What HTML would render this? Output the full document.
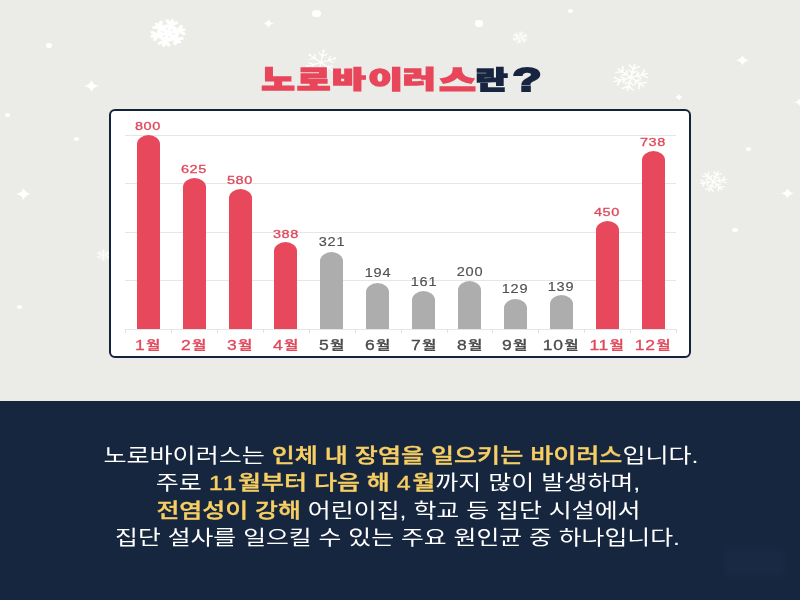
<!DOCTYPE html>
<html lang="ko"><head><meta charset="utf-8"><title>노로바이러스란?</title>
<style>
html,body{margin:0;padding:0}
body{width:800px;height:600px;position:relative;overflow:hidden;background:#ebebe7;font-family:"Liberation Sans","Noto Sans CJK KR",sans-serif}
.fl,.dot{position:absolute}
.dot{background:#fff;border-radius:50%}
.title{position:absolute;left:0;top:0;width:0;height:0;font-family:"Liberation Sans","Noto Sans CJK KR",sans-serif;font-weight:900;font-size:30px;line-height:1;white-space:nowrap}
.title span{position:absolute;left:0;top:0;transform-origin:0 0;-webkit-text-stroke:1.8px currentColor}
.title .r{color:#e8465a}
.title .n{color:#172541}
.chart{position:absolute;left:109px;top:109px;width:578px;height:245px;border:2px solid #15223c;border-radius:6px;background:#fff}
.bar{position:absolute;width:23px;border-radius:11.5px 11.5px 0 0 / 9px 9px 0 0}
.bar.r{background:#e8485b}
.bar.g{background:#adadad}
.val,.mon{position:absolute;width:60px;text-align:center;font-family:"Liberation Sans","Noto Sans CJK KR",sans-serif;white-space:nowrap;transform:scaleX(1.25)}
.val{font-size:11.6px;line-height:16px;letter-spacing:0.55px}
.val.r{color:#e0485a;-webkit-text-stroke:0.3px #e0485a}
.val.g{color:#505050;font-weight:400;font-size:13px;letter-spacing:0.6px;transform:scaleX(1.12);-webkit-text-stroke:0.15px #505050}
.mon{top:334.5px;font-size:14px;line-height:20px;font-weight:500;letter-spacing:0.5px}
.mon span{font-size:12.5px;margin-left:0.5px}
.mon.r{color:#e0485a;-webkit-text-stroke:0.3px #e0485a}
.mon.g{color:#4a4a4a;-webkit-text-stroke:0.3px #4a4a4a}
.grid{position:absolute;left:125px;width:551px;height:1px;background:#e6e6e6}
.tick{position:absolute;top:329px;width:1px;height:4px;background:#e2e2e2}
.bottom{position:absolute;left:0;top:400.5px;width:800px;height:200px;background:#17263f}
.wm{position:absolute;left:725px;top:549px;width:60px;height:28px;background:#1c2e4a;filter:blur(3px);opacity:.45}
.txt{position:absolute;left:0;width:800px;text-align:center;color:#fff;font-family:"Liberation Sans","Noto Sans CJK KR",sans-serif;font-size:20px;line-height:28px;font-weight:400;white-space:nowrap;transform-origin:50% 50%}
.txt .d{letter-spacing:1.3px}
.txt b{color:#f7cf63;font-weight:500;-webkit-text-stroke:0.35px #f7cf63}
</style></head><body>
<svg class="fl" style="left:150.3px;top:18.5px;opacity:1" width="36" height="28" viewBox="-11 -11 22 22" preserveAspectRatio="none"><g fill="none" stroke="#fff" stroke-width="2.2" stroke-linecap="round"><g transform="rotate(15)"><path d="M0 0V-10M0 -6.5l-3 -2.6M0 -6.5l3 -2.6M0 -3.4l-2.2 -1.9M0 -3.4l2.2 -1.9"/></g><g transform="rotate(75)"><path d="M0 0V-10M0 -6.5l-3 -2.6M0 -6.5l3 -2.6M0 -3.4l-2.2 -1.9M0 -3.4l2.2 -1.9"/></g><g transform="rotate(135)"><path d="M0 0V-10M0 -6.5l-3 -2.6M0 -6.5l3 -2.6M0 -3.4l-2.2 -1.9M0 -3.4l2.2 -1.9"/></g><g transform="rotate(195)"><path d="M0 0V-10M0 -6.5l-3 -2.6M0 -6.5l3 -2.6M0 -3.4l-2.2 -1.9M0 -3.4l2.2 -1.9"/></g><g transform="rotate(255)"><path d="M0 0V-10M0 -6.5l-3 -2.6M0 -6.5l3 -2.6M0 -3.4l-2.2 -1.9M0 -3.4l2.2 -1.9"/></g><g transform="rotate(315)"><path d="M0 0V-10M0 -6.5l-3 -2.6M0 -6.5l3 -2.6M0 -3.4l-2.2 -1.9M0 -3.4l2.2 -1.9"/></g></g></svg>
<svg class="fl" style="left:304.0px;top:48.5px;opacity:1" width="34" height="27" viewBox="-11 -11 22 22" preserveAspectRatio="none"><g fill="none" stroke="#fff" stroke-width="0.9" stroke-linecap="round"><g transform="rotate(10)"><path d="M0 0V-9M0 -5l-2.5 -2.5M0 -5l2.5 -2.5"/><circle cx="0" cy="-9.6" r="0.9" fill="#fff" stroke="none"/></g><g transform="rotate(70)"><path d="M0 0V-9M0 -5l-2.5 -2.5M0 -5l2.5 -2.5"/><circle cx="0" cy="-9.6" r="0.9" fill="#fff" stroke="none"/></g><g transform="rotate(130)"><path d="M0 0V-9M0 -5l-2.5 -2.5M0 -5l2.5 -2.5"/><circle cx="0" cy="-9.6" r="0.9" fill="#fff" stroke="none"/></g><g transform="rotate(190)"><path d="M0 0V-9M0 -5l-2.5 -2.5M0 -5l2.5 -2.5"/><circle cx="0" cy="-9.6" r="0.9" fill="#fff" stroke="none"/></g><g transform="rotate(250)"><path d="M0 0V-9M0 -5l-2.5 -2.5M0 -5l2.5 -2.5"/><circle cx="0" cy="-9.6" r="0.9" fill="#fff" stroke="none"/></g><g transform="rotate(310)"><path d="M0 0V-9M0 -5l-2.5 -2.5M0 -5l2.5 -2.5"/><circle cx="0" cy="-9.6" r="0.9" fill="#fff" stroke="none"/></g></g></svg>
<svg class="fl" style="left:611.6px;top:62.5px;opacity:0.9" width="38" height="29" viewBox="-11 -11 22 22" preserveAspectRatio="none"><g fill="none" stroke="#fff" stroke-width="1.1" stroke-linecap="round"><g transform="rotate(12)"><path d="M0 0V-10M0 -6.5l-3 -2.6M0 -6.5l3 -2.6M0 -3.4l-2.2 -1.9M0 -3.4l2.2 -1.9"/></g><g transform="rotate(72)"><path d="M0 0V-10M0 -6.5l-3 -2.6M0 -6.5l3 -2.6M0 -3.4l-2.2 -1.9M0 -3.4l2.2 -1.9"/></g><g transform="rotate(132)"><path d="M0 0V-10M0 -6.5l-3 -2.6M0 -6.5l3 -2.6M0 -3.4l-2.2 -1.9M0 -3.4l2.2 -1.9"/></g><g transform="rotate(192)"><path d="M0 0V-10M0 -6.5l-3 -2.6M0 -6.5l3 -2.6M0 -3.4l-2.2 -1.9M0 -3.4l2.2 -1.9"/></g><g transform="rotate(252)"><path d="M0 0V-10M0 -6.5l-3 -2.6M0 -6.5l3 -2.6M0 -3.4l-2.2 -1.9M0 -3.4l2.2 -1.9"/></g><g transform="rotate(312)"><path d="M0 0V-10M0 -6.5l-3 -2.6M0 -6.5l3 -2.6M0 -3.4l-2.2 -1.9M0 -3.4l2.2 -1.9"/></g></g></svg>
<svg class="fl" style="left:699.0px;top:169.5px;opacity:0.9" width="29" height="23" viewBox="-11 -11 22 22" preserveAspectRatio="none"><g fill="none" stroke="#fff" stroke-width="1.2" stroke-linecap="round"><g transform="rotate(20)"><path d="M0 0V-10M0 -6.5l-3 -2.6M0 -6.5l3 -2.6M0 -3.4l-2.2 -1.9M0 -3.4l2.2 -1.9"/></g><g transform="rotate(80)"><path d="M0 0V-10M0 -6.5l-3 -2.6M0 -6.5l3 -2.6M0 -3.4l-2.2 -1.9M0 -3.4l2.2 -1.9"/></g><g transform="rotate(140)"><path d="M0 0V-10M0 -6.5l-3 -2.6M0 -6.5l3 -2.6M0 -3.4l-2.2 -1.9M0 -3.4l2.2 -1.9"/></g><g transform="rotate(200)"><path d="M0 0V-10M0 -6.5l-3 -2.6M0 -6.5l3 -2.6M0 -3.4l-2.2 -1.9M0 -3.4l2.2 -1.9"/></g><g transform="rotate(260)"><path d="M0 0V-10M0 -6.5l-3 -2.6M0 -6.5l3 -2.6M0 -3.4l-2.2 -1.9M0 -3.4l2.2 -1.9"/></g><g transform="rotate(320)"><path d="M0 0V-10M0 -6.5l-3 -2.6M0 -6.5l3 -2.6M0 -3.4l-2.2 -1.9M0 -3.4l2.2 -1.9"/></g></g></svg>
<svg class="fl" style="left:512.0px;top:30.5px;opacity:0.9" width="16" height="13" viewBox="-11 -11 22 22" preserveAspectRatio="none"><g fill="none" stroke="#fff" stroke-width="1.3" stroke-linecap="round"><g transform="rotate(10)"><path d="M0 0V-10M0 -6.5l-3 -2.6M0 -6.5l3 -2.6M0 -3.4l-2.2 -1.9M0 -3.4l2.2 -1.9"/></g><g transform="rotate(70)"><path d="M0 0V-10M0 -6.5l-3 -2.6M0 -6.5l3 -2.6M0 -3.4l-2.2 -1.9M0 -3.4l2.2 -1.9"/></g><g transform="rotate(130)"><path d="M0 0V-10M0 -6.5l-3 -2.6M0 -6.5l3 -2.6M0 -3.4l-2.2 -1.9M0 -3.4l2.2 -1.9"/></g><g transform="rotate(190)"><path d="M0 0V-10M0 -6.5l-3 -2.6M0 -6.5l3 -2.6M0 -3.4l-2.2 -1.9M0 -3.4l2.2 -1.9"/></g><g transform="rotate(250)"><path d="M0 0V-10M0 -6.5l-3 -2.6M0 -6.5l3 -2.6M0 -3.4l-2.2 -1.9M0 -3.4l2.2 -1.9"/></g><g transform="rotate(310)"><path d="M0 0V-10M0 -6.5l-3 -2.6M0 -6.5l3 -2.6M0 -3.4l-2.2 -1.9M0 -3.4l2.2 -1.9"/></g></g></svg>
<svg class="fl" style="left:95.5px;top:249.0px;opacity:0.9" width="15" height="12" viewBox="-11 -11 22 22" preserveAspectRatio="none"><g fill="none" stroke="#fff" stroke-width="1.4" stroke-linecap="round"><g transform="rotate(0)"><path d="M0 0V-10M0 -6.5l-3 -2.6M0 -6.5l3 -2.6M0 -3.4l-2.2 -1.9M0 -3.4l2.2 -1.9"/></g><g transform="rotate(60)"><path d="M0 0V-10M0 -6.5l-3 -2.6M0 -6.5l3 -2.6M0 -3.4l-2.2 -1.9M0 -3.4l2.2 -1.9"/></g><g transform="rotate(120)"><path d="M0 0V-10M0 -6.5l-3 -2.6M0 -6.5l3 -2.6M0 -3.4l-2.2 -1.9M0 -3.4l2.2 -1.9"/></g><g transform="rotate(180)"><path d="M0 0V-10M0 -6.5l-3 -2.6M0 -6.5l3 -2.6M0 -3.4l-2.2 -1.9M0 -3.4l2.2 -1.9"/></g><g transform="rotate(240)"><path d="M0 0V-10M0 -6.5l-3 -2.6M0 -6.5l3 -2.6M0 -3.4l-2.2 -1.9M0 -3.4l2.2 -1.9"/></g><g transform="rotate(300)"><path d="M0 0V-10M0 -6.5l-3 -2.6M0 -6.5l3 -2.6M0 -3.4l-2.2 -1.9M0 -3.4l2.2 -1.9"/></g></g></svg>
<svg class="fl" style="left:83.5px;top:80.0px;opacity:1" width="15" height="12.0" viewBox="-10 -10 20 20" preserveAspectRatio="none"><path fill="#fff" d="M0 -10Q1.8 -1.8 10 0Q1.8 1.8 0 10Q-1.8 1.8 -10 0Q-1.8 -1.8 0 -10Z"/></svg>
<svg class="fl" style="left:16.0px;top:187.5px;opacity:1" width="15" height="12.0" viewBox="-10 -10 20 20" preserveAspectRatio="none"><path fill="#fff" d="M0 -10Q1.8 -1.8 10 0Q1.8 1.8 0 10Q-1.8 1.8 -10 0Q-1.8 -1.8 0 -10Z"/></svg>
<svg class="fl" style="left:262.9px;top:18.5px;opacity:1" width="11" height="9.0" viewBox="-10 -10 20 20" preserveAspectRatio="none"><path fill="#fff" d="M0 -10Q1.8 -1.8 10 0Q1.8 1.8 0 10Q-1.8 1.8 -10 0Q-1.8 -1.8 0 -10Z"/></svg>
<svg class="fl" style="left:735.5px;top:54.8px;opacity:1" width="13" height="10.5" viewBox="-10 -10 20 20" preserveAspectRatio="none"><path fill="#fff" d="M0 -10Q1.8 -1.8 10 0Q1.8 1.8 0 10Q-1.8 1.8 -10 0Q-1.8 -1.8 0 -10Z"/></svg>
<svg class="fl" style="left:781.0px;top:187.8px;opacity:1" width="13" height="10.5" viewBox="-10 -10 20 20" preserveAspectRatio="none"><path fill="#fff" d="M0 -10Q1.8 -1.8 10 0Q1.8 1.8 0 10Q-1.8 1.8 -10 0Q-1.8 -1.8 0 -10Z"/></svg>
<svg class="fl" style="left:793.5px;top:96.8px;opacity:1" width="13" height="10.5" viewBox="-10 -10 20 20" preserveAspectRatio="none"><path fill="#fff" d="M0 -10Q1.8 -1.8 10 0Q1.8 1.8 0 10Q-1.8 1.8 -10 0Q-1.8 -1.8 0 -10Z"/></svg>
<svg class="fl" style="left:674.5px;top:93.8px;opacity:1" width="8" height="6.5" viewBox="-10 -10 20 20" preserveAspectRatio="none"><path fill="#fff" d="M0 -10Q1.8 -1.8 10 0Q1.8 1.8 0 10Q-1.8 1.8 -10 0Q-1.8 -1.8 0 -10Z"/></svg>
<div class="dot" style="left:46.2px;top:43.2px;width:5.5px;height:4.5px;opacity:1"></div>
<div class="dot" style="left:5.0px;top:113.0px;width:5px;height:4.0px;opacity:1"></div>
<div class="dot" style="left:73.5px;top:137.2px;width:5px;height:3.5px;opacity:1"></div>
<div class="dot" style="left:311.9px;top:9.8px;width:9px;height:7.5px;opacity:1"></div>
<div class="dot" style="left:474.7px;top:20.4px;width:8px;height:6.5px;opacity:1"></div>
<div class="dot" style="left:567.8px;top:8.8px;width:5.5px;height:4.5px;opacity:1"></div>
<div class="dot" style="left:745.8px;top:147.2px;width:5.5px;height:3.5px;opacity:1"></div>
<div class="dot" style="left:732.2px;top:227.8px;width:5.5px;height:4.5px;opacity:1"></div>
<div class="dot" style="left:16.5px;top:305.2px;width:5px;height:3.5px;opacity:1"></div>
<div class="title"><span class="r" style="transform:translate(261.5px,66.46px) scale(1.204,0.942)">노</span><span class="r" style="transform:translate(297.0px,67.4px) scale(1.207,0.907)">로</span><span class="r" style="transform:translate(331.99px,68.19px) scale(1.215,0.79)">바</span><span class="r" style="transform:translate(368.24px,68.19px) scale(1.26,0.79)">이</span><span class="r" style="transform:translate(402.8px,68.19px) scale(1.2,0.79)">러</span><span class="r" style="transform:translate(439.3px,67.4px) scale(1.321,0.942)">스</span><span class="n" style="transform:translate(475.44px,68.22px) scale(1.163,0.817)">란</span><span class="n" style="transform:translate(512.6px,62.95px) scale(1.589,1.114)">?</span></div>
<div class="chart"></div>
<div class="grid" style="top:135px"></div>
<div class="grid" style="top:183px"></div>
<div class="grid" style="top:232px"></div>
<div class="grid" style="top:280px"></div>
<div class="grid" style="top:329px"></div>
<div class="bar r" style="left:136.8px;top:134.8px;height:194.6px"></div>
<div class="val r" style="left:118.3px;top:117.8px">800</div>
<div class="mon r" style="left:118.3px">1<span>월</span></div>
<div class="bar r" style="left:182.7px;top:177.5px;height:151.9px"></div>
<div class="val r" style="left:164.2px;top:160.5px">625</div>
<div class="mon r" style="left:164.2px">2<span>월</span></div>
<div class="bar r" style="left:228.6px;top:188.8px;height:140.6px"></div>
<div class="val r" style="left:210.1px;top:171.6px">580</div>
<div class="mon r" style="left:210.1px">3<span>월</span></div>
<div class="bar r" style="left:274.4px;top:241.9px;height:87.5px"></div>
<div class="val r" style="left:255.9px;top:225.5px">388</div>
<div class="mon r" style="left:255.9px">4<span>월</span></div>
<div class="bar g" style="left:320.3px;top:251.9px;height:77.5px"></div>
<div class="val g" style="left:301.8px;top:234.4px">321</div>
<div class="mon g" style="left:301.8px">5<span>월</span></div>
<div class="bar g" style="left:366.2px;top:282.5px;height:46.9px"></div>
<div class="val g" style="left:347.7px;top:265.1px">194</div>
<div class="mon g" style="left:347.7px">6<span>월</span></div>
<div class="bar g" style="left:412.1px;top:290.5px;height:38.9px"></div>
<div class="val g" style="left:393.6px;top:273.7px">161</div>
<div class="mon g" style="left:393.6px">7<span>월</span></div>
<div class="bar g" style="left:458.0px;top:280.5px;height:48.9px"></div>
<div class="val g" style="left:439.5px;top:263.7px">200</div>
<div class="mon g" style="left:439.5px">8<span>월</span></div>
<div class="bar g" style="left:503.8px;top:298.7px;height:30.7px"></div>
<div class="val g" style="left:485.3px;top:280.9px">129</div>
<div class="mon g" style="left:485.3px">9<span>월</span></div>
<div class="bar g" style="left:549.7px;top:295.3px;height:34.1px"></div>
<div class="val g" style="left:531.2px;top:279.1px">139</div>
<div class="mon g" style="left:531.2px">10<span>월</span></div>
<div class="bar r" style="left:595.6px;top:220.6px;height:108.8px"></div>
<div class="val r" style="left:577.1px;top:203.6px">450</div>
<div class="mon r" style="left:577.1px">11<span>월</span></div>
<div class="bar r" style="left:641.5px;top:151.0px;height:178.4px"></div>
<div class="val r" style="left:623.0px;top:133.8px">738</div>
<div class="mon r" style="left:623.0px">12<span>월</span></div>
<div class="tick" style="left:125.3px"></div>
<div class="tick" style="left:171.2px"></div>
<div class="tick" style="left:217.1px"></div>
<div class="tick" style="left:262.9px"></div>
<div class="tick" style="left:308.8px"></div>
<div class="tick" style="left:354.7px"></div>
<div class="tick" style="left:400.6px"></div>
<div class="tick" style="left:446.5px"></div>
<div class="tick" style="left:492.3px"></div>
<div class="tick" style="left:538.2px"></div>
<div class="tick" style="left:584.1px"></div>
<div class="tick" style="left:630.0px"></div>
<div class="tick" style="left:675.9px"></div>
<div class="bottom"></div>
<div class="wm"></div>
<div class="txt" style="top:442px;transform:translateX(1px) scaleX(1.253)">노로바이러스는 <b>인체 내 장염을 일으키는 바이러스</b>입니다.</div>
<div class="txt" style="top:468.8px;transform:translateX(-2px) scaleX(1.25)">주로 <b><span class="d">11</span>월부터 다음 해 <span class="d">4</span>월</b>까지 많이 발생하며,</div>
<div class="txt" style="top:496.5px;transform:translateX(-1.5px) scaleX(1.246)"><b>전염성이 강해</b> 어린이집, 학교 등 집단 시설에서</div>
<div class="txt" style="top:524.1px;transform:translateX(-2.5px) scaleX(1.242)">집단 설사를 일으킬 수 있는 주요 원인균 중 하나입니다.</div>
</body></html>
